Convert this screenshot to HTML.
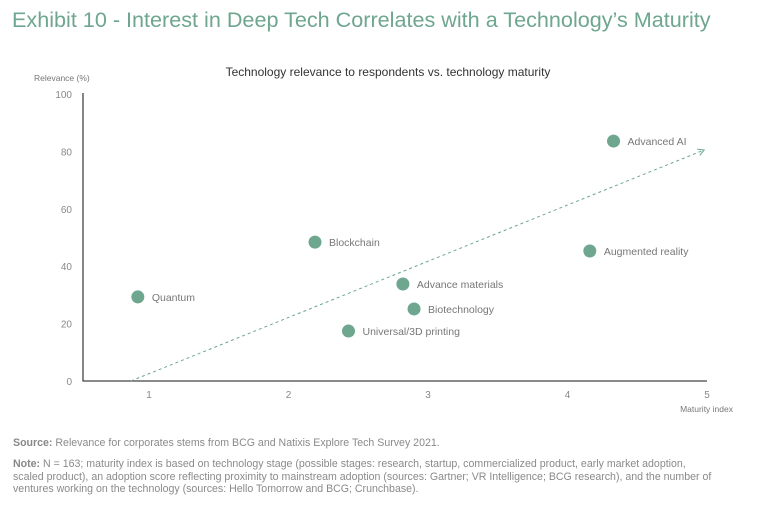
<!DOCTYPE html>
<html><head><meta charset="utf-8"><style>
body{margin:0;width:768px;height:508px;background:#fff;font-family:"Liberation Sans",sans-serif;overflow:hidden;position:relative}
#title{position:absolute;left:12px;top:7px;font-size:21.6px;color:#6ea68f;white-space:nowrap}
.foot{position:absolute;left:13px;font-size:10.6px;color:#8a8a8a;line-height:12.5px;width:700px}
.foot b{color:#888;font-weight:bold}
</style></head><body>
<div id="title">Exhibit 10 - Interest in Deep Tech Correlates with a Technology’s Maturity</div>
<svg id="chart" width="768" height="430" style="position:absolute;left:0;top:0" font-family="Liberation Sans, sans-serif"></svg>
<div class="foot" style="top:437px;width:740px"><b>Source:</b> Relevance for corporates stems from BCG and Natixis Explore Tech Survey 2021.</div>
<div class="foot" style="top:458px"><b>Note:</b> N = 163; maturity index is based on technology stage (possible stages: research, startup, commercialized product, early market adoption, scaled product), an adoption score reflecting proximity to mainstream adoption (sources: Gartner; VR Intelligence; BCG research), and the number of ventures working on the technology (sources: Hello Tomorrow and BCG; Crunchbase).</div>
<script>
const names=["Quantum","Blockchain","Advance materials","Biotechnology","Universal/3D printing","Augmented reality","Advanced AI"];
const maturity=[0.92,2.19,2.82,2.9,2.43,4.16,4.33];
const relevance=[29.3,48.4,33.8,25.1,17.4,45.3,83.6];
const xTicks=[1,2,3,4,5];
const yTicks=[0,20,40,60,80,100];
const trendStart=[0.87,0];
const trendEnd=[4.98,80.5];
const NS="http://www.w3.org/2000/svg";
const svg=document.getElementById('chart');
const X=v=>149+(v-1)*139.5;
const Y=v=>381-v*2.87;
function mk(t,a,txt){const e=document.createElementNS(NS,t);for(const k in a)e.setAttribute(k,a[k]);if(txt!==undefined)e.textContent=txt;svg.appendChild(e);return e;}
let e;
e=mk('text',{x:388,y:76,'font-size':12,fill:'#333','text-anchor':'middle'},'Technology relevance to respondents vs. technology maturity');


e=mk('text',{x:34,y:81,'font-size':8.5,fill:'#777'},'Relevance (%)');


e=mk('text',{x:733,y:412,'font-size':8.5,fill:'#777','text-anchor':'end'},'Maturity index');


e=mk('path',{d:'M83 93 V381 H707',fill:'none',stroke:'#444','stroke-width':1.3});


yTicks.forEach(t=>{
 e=mk('text',{x:72,y:Y(t)+4,'font-size':10,fill:'#888','text-anchor':'end'},t);
 
 
});
xTicks.forEach(t=>{
 e=mk('text',{x:X(t),y:398,'font-size':10,fill:'#888','text-anchor':'middle'},t);
 
 
});
const x1=X(trendStart[0]),y1=Y(trendStart[1]),x2=X(trendEnd[0]),y2=Y(trendEnd[1]);
e=mk('line',{x1:x1,y1:y1,x2:x2,y2:y2,stroke:'#6ea68f','stroke-width':1,'stroke-dasharray':'3,3'});


const ang=Math.atan2(y2-y1,x2-x1);
const p=(a,l)=>[x2-l*Math.cos(ang+a),y2-l*Math.sin(ang+a)];
const a1=p(0.5,7),a2=p(-0.5,7);
e=mk('path',{d:`M${a1} L${x2},${y2} L${a2}`,fill:'none',stroke:'#6ea68f','stroke-width':1});


names.forEach((n,i)=>{
 e=mk('circle',{cx:X(maturity[i]),cy:Y(relevance[i]),r:6.5,fill:'#6ea68f'});
 
 
 e=mk('text',{x:X(maturity[i])+14,y:Y(relevance[i])+4,'font-size':10.5,fill:'#777'},n);
 
 
});
</script>
</body></html>
